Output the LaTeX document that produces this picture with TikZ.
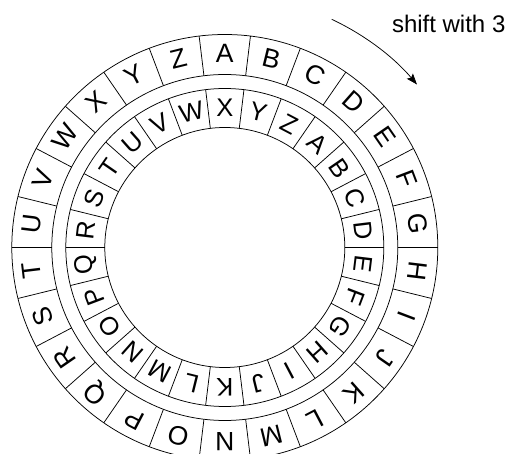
\documentclass[tikz,border=0pt]{standalone}
\usepackage{fontspec}
\setmainfont{Liberation Sans}
\usetikzlibrary{arrows.meta}
\begin{document}
\begin{tikzpicture}[x=1pt,y=1pt,
  ring/.style={draw=black, line width=0.75pt},
  sep/.style={draw=black, line width=0.75pt},
  outerletter/.style={font=\fontsize{26.5}{26.5}\selectfont, inner sep=0pt, anchor=center},
  innerletter/.style={font=\fontsize{25.5}{25.5}\selectfont, inner sep=0pt, anchor=center},
  label/.style={font=\fontsize{24}{24}\selectfont, inner sep=0pt, anchor=base west},
  shiftarrow/.style={line width=0.75pt, -{Stealth[length=11pt, width=8pt, inset=2pt]}}]
\clip (-224.8,-206.5) rectangle (291.2,247.5);
\useasboundingbox (-224.8,-206.5) rectangle (291.2,247.5);
% rings
\draw[ring] (0,0) circle (213);
\draw[ring] (0,0) circle (173);
\draw[ring] (0,0) circle (159);
\draw[ring] (0,0) circle (120);
% separators
\foreach \k in {0,...,25} {
  \pgfmathsetmacro\a{\k*360/26}
  \draw[sep] (\a:173) -- (\a:213);
  \draw[sep] (\a:120) -- (\a:159);
}
% outer letters
\foreach \i/\L in {0/A,1/B,2/C,3/D,4/E,5/F,6/G,7/H,8/I,9/J,10/K,11/L,12/M,13/N,14/O,15/P,16/Q,17/R,18/S,19/T,20/U,21/V,22/W,23/X,24/Y,25/Z} {
  \pgfmathsetmacro\ang{90-\i*360/26}
  \pgfmathsetmacro\rot{-\i*360/26}
  \node[outerletter, rotate=\rot] (o\L) at (\ang:194.5) {\L};
}
% inner letters (shifted by 3)
\foreach \i/\L in {0/A,1/B,2/C,3/D,4/E,5/F,6/G,7/H,8/I,9/J,10/K,11/L,12/M,13/N,14/O,15/P,16/Q,17/R,18/S,19/T,20/U,21/V,22/W,23/X,24/Y,25/Z} {
  \pgfmathsetmacro\ang{90-(\i+3)*360/26}
  \pgfmathsetmacro\rot{-(\i+3)*360/26}
  \node[innerletter, rotate=\rot] (i\L) at (\ang:139.5) {\L};
}
% shift arrow and label
\coordinate (arrstart) at (64.9:252);
\node[label] (shiftlabel) at (167,214.5) {shift with 3};
\draw[shiftarrow] (arrstart) arc[start angle=64.9, end angle=40.3, radius=252];
\end{tikzpicture}
\end{document}
